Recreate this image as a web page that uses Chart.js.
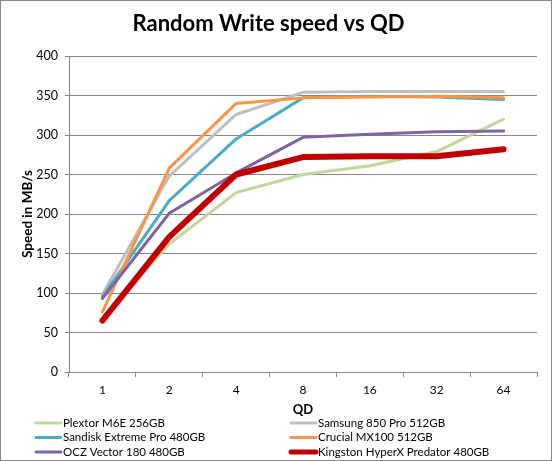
<!DOCTYPE html>
<html>
<head>
<meta charset="utf-8">
<script src="https://cdn.jsdelivr.net/npm/chart.js@4/dist/chart.umd.min.js"></script>
<style>
  html, body { margin: 0; padding: 0; background: #fff; }
  #wrap { width: 552px; height: 461px; position: relative; }
</style>
</head>
<body>
<div id="wrap"><canvas id="qdChart" width="552" height="461"></canvas></div>
<script>
// Random write speed (MB/s) per queue depth
const queueDepths = ['1', '2', '4', '8', '16', '32', '64'];
const yTicks = [0, 50, 100, 150, 200, 250, 300, 350, 400];

const plextor  = [68, 162, 227, 250, 261, 279, 320];
const samsung  = [98, 248, 326, 354, 355, 355, 355];
const sandisk  = [95, 217, 295, 347, 349, 348, 345];
const crucial  = [76, 258, 340, 347, 348, 349, 347];
const ocz      = [93, 201, 252, 297, 301, 304, 305];
const kingston = [65, 171, 250, 272, 273, 273, 282];

const seriesNames = [
    'Plextor M6E 256GB',
    'Samsung 850 Pro 512GB',
    'Sandisk Extreme Pro 480GB',
    'Crucial MX100 512GB',
    'OCZ Vector 180 480GB',
    'Kingston HyperX Predator 480GB'
];
const seriesValues = [plextor, samsung, sandisk, crucial, ocz, kingston];
const seriesColors = ['#c3d69b', '#bfbfbf', '#4bacc6', '#f79646', '#8064a2', '#c00000'];
const seriesWidths = [3, 3, 3, 3, 3, 6];

const FONT = 'Lato, "Open Sans", sans-serif';
const GRID = '#868686';

const datasets = seriesNames.map((name, i) => ({
    label: name,
    data: seriesValues[i],
    borderColor: seriesColors[i],
    backgroundColor: seriesColors[i],
    borderWidth: seriesWidths[i],
    borderCapStyle: 'round',
    borderJoinStyle: 'round',
    pointRadius: 0,
    tension: 0,
    fill: false,
    order: seriesNames.length - 1 - i   // later series drawn on top
}));

// legend in two columns below the axis, plus the outer frame
const excelLegend = {
    id: 'excelLegend',
    afterDraw(chart) {
        const ctx = chart.ctx;
        ctx.save();
        ctx.font = '11.5px ' + FONT;
        ctx.textBaseline = 'middle';
        ctx.textAlign = 'left';
        chart.data.datasets.forEach((ds, i) => {
            const col = i % 2;
            const row = Math.floor(i / 2);
            const x = col === 0 ? 35 : 290;
            const y = 423 + row * 14.5;
            ctx.strokeStyle = ds.borderColor;
            ctx.lineWidth = ds.borderWidth === 6 ? 5 : 3;
            ctx.lineCap = 'round';
            ctx.beginPath();
            ctx.moveTo(x + 1, y);
            ctx.lineTo(x + 26, y);
            ctx.stroke();
            ctx.fillStyle = '#000';
            ctx.fillText(ds.label, x + 28, y);
        });
        ctx.strokeStyle = GRID;
        ctx.lineWidth = 1;
        ctx.strokeRect(0.5, 0.5, chart.width - 1, chart.height - 1);
        ctx.restore();
    }
};

new Chart(document.getElementById('qdChart'), {
    type: 'line',
    data: {
        labels: queueDepths,
        datasets: datasets
    },
    options: {
        responsive: false,
        animation: false,
        devicePixelRatio: 1,
        layout: {
            padding: { top: 0, right: 15, bottom: 43, left: 0 }
        },
        plugins: {
            legend: { display: false },
            tooltip: { enabled: false },
            title: {
                display: true,
                text: 'Random Write speed vs QD',
                color: '#000',
                font: { family: FONT, size: 22, weight: 'bold' },
                padding: { top: 11, bottom: 18.6 }
            }
        },
        scales: {
            x: {
                offset: true,
                afterFit(scale) { scale.height = 46; },
                grid: {
                    offset: true,
                    drawOnChartArea: false,
                    drawTicks: true,
                    tickLength: 5,
                    color: GRID,
                    tickColor: GRID
                },
                border: { color: GRID, width: 1 },
                ticks: {
                    color: '#000',
                    padding: 6,
                    maxRotation: 0,
                    font: { family: FONT, size: 12 }
                },
                title: {
                    display: true,
                    text: 'QD',
                    color: '#000',
                    padding: { top: 0, bottom: 0 },
                    font: { family: FONT, size: 13, weight: 'bold' }
                }
            },
            y: {
                min: yTicks[0],
                max: yTicks[yTicks.length - 1],
                afterFit(scale) { scale.width = 69; },
                afterBuildTicks(scale) { scale.ticks = yTicks.map(v => ({ value: v })); },
                grid: {
                    color: GRID,
                    tickColor: GRID,
                    tickLength: 4,
                    drawTicks: true
                },
                border: { color: GRID, width: 1 },
                ticks: {
                    color: '#000',
                    padding: 7,
                    font: { family: FONT, size: 12.5 }
                },
                title: {
                    display: true,
                    text: 'Speed in MB/s',
                    color: '#000',
                    padding: { top: 20, bottom: 0 },
                    font: { family: FONT, size: 13.5, weight: 'bold' }
                }
            }
        }
    },
    plugins: [excelLegend]
});
</script>
</body>
</html>
